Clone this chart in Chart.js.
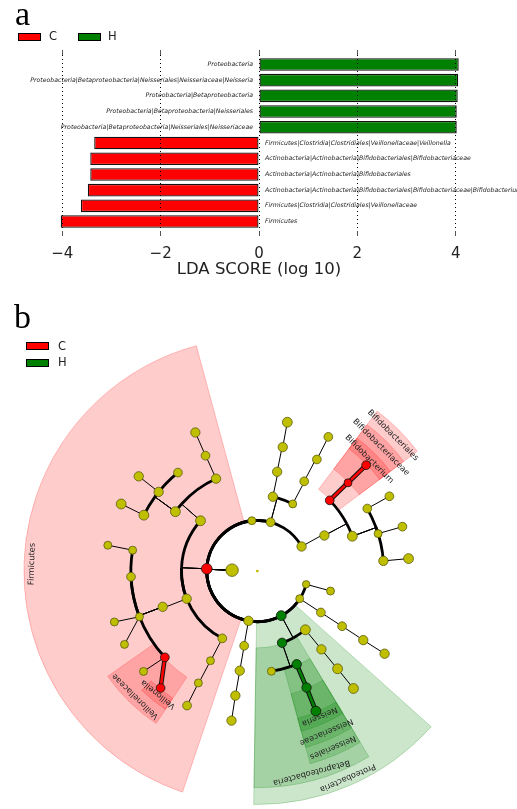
<!DOCTYPE html>
<html>
<head>
<meta charset="utf-8">
<script src="https://cdn.jsdelivr.net/npm/chart.js@4/dist/chart.umd.min.js"></script>
<style>
  html, body { margin: 0; padding: 0; background: #fff; }
  #page { position: relative; width: 517px; height: 809px; overflow: hidden; font-family: "DejaVu Sans", sans-serif; }
  canvas { position: absolute; left: 0; }
  #lda { top: 0; }
  #clado { top: 285px; }
  .panel { position: absolute; font-family: "Liberation Serif", serif; font-size: 34px; line-height: 34px; color: #000; }
  .key { position: absolute; height: 8px; width: 23px; border: 1px solid #000; box-sizing: border-box; }
  .keytxt { position: absolute; font-size: 11.5px; line-height: 11.5px; color: #222; }
</style>
</head>
<body>
<div id="page">
  <canvas id="lda" width="517" height="290"></canvas>
  <canvas id="clado" width="517" height="524"></canvas>

  <div class="panel" style="left:15px; top:-3px;">a</div>
  <div class="key" style="left:18px; top:32.5px; background:#ff0000;"></div>
  <div class="keytxt" style="left:49px; top:31px;">C</div>
  <div class="key" style="left:77.5px; top:32.5px; background:#008000;"></div>
  <div class="keytxt" style="left:108px; top:31px;">H</div>

  <div class="panel" style="left:14px; top:299.5px;">b</div>
  <div class="key" style="left:26px; top:342px; background:#ff0000;"></div>
  <div class="keytxt" style="left:58px; top:340.5px;">C</div>
  <div class="key" style="left:26px; top:358.5px; background:#008000;"></div>
  <div class="keytxt" style="left:58px; top:357px;">H</div>
</div>

<script>
Chart.defaults.font.family = '"DejaVu Sans", sans-serif';

/* ---------- LDA effect sizes (panel a) ---------- */
const ldaTaxa = [
  'Proteobacteria',
  'Proteobacteria|Betaproteobacteria|Neisseriales|Neisseriaceae|Neisseria',
  'Proteobacteria|Betaproteobacteria',
  'Proteobacteria|Betaproteobacteria|Neisseriales',
  'Proteobacteria|Betaproteobacteria|Neisseriales|Neisseriaceae',
  'Firmicutes|Clostridia|Clostridiales|Veillonellaceae|Veillonella',
  'Actinobacteria|Actinobacteria|Bifidobacteriales|Bifidobacteriaceae',
  'Actinobacteria|Actinobacteria|Bifidobacteriales',
  'Actinobacteria|Actinobacteria|Bifidobacteriales|Bifidobacteriaceae|Bifidobacterium',
  'Firmicutes|Clostridia|Clostridiales|Veillonellaceae',
  'Firmicutes'
];
const ldaScores = [4.06, 4.05, 4.04, 4.02, 4.02, -3.35, -3.43, -3.43, -3.48, -3.62, -4.03];
const ldaClass  = ['H', 'H', 'H', 'H', 'H', 'C', 'C', 'C', 'C', 'C', 'C'];
const ldaTicks  = [-4, -2, 0, 2, 4];

const classFill   = { C: '#ff0000', H: '#008000' };
const classShade  = { C: 'rgba(255,0,0,0.2)', H: 'rgba(0,128,0,0.2)' };
const classEdge   = { C: 'rgba(255,0,0,0.22)', H: 'rgba(0,128,0,0.22)' };

/* ---------- cladogram (panel b) ---------- */
// key prefix gives the rank; angle in degrees (counter-clockwise from east)
const cladeKeys = [
  'root', 'k__Bacteria',
  'p__1', 'p__2', 'p__Actinobacteria', 'p__Firmicutes', 'p__5', 'p__Proteobacteria', 'p__7', 'p__8',
  'c__2a', 'c__2b', 'c__Actinobacteria', 'c__F1', 'c__Clostridia', 'c__F3', 'c__5',
  'c__Betaproteobacteria', 'c__6b', 'c__7', 'c__8',
  'o__2a', 'o__2b', 'o__Bifidobacteriales', 'o__3b', 'o__F1a', 'o__F1b', 'o__Clostridiales',
  'o__F3', 'o__5', 'o__6a', 'o__Neisseriales', 'o__6b', 'o__7',
  'f__2a', 'f__2b', 'f__Bifidobacteriaceae', 'f__3b1', 'f__3b2', 'f__3b3', 'f__F1a',
  'f__F1b1', 'f__F1b2', 'f__F1b3', 'f__Cl1', 'f__Cl2', 'f__Cl3', 'f__Veillonellaceae',
  'f__F3', 'f__5', 'f__Neisseriaceae', 'f__6b', 'f__7',
  'g__2a', 'g__2b', 'g__Bifidobacterium', 'g__3b1', 'g__3b2', 'g__3b3', 'g__F1a',
  'g__F1b2', 'g__F1b3', 'g__Cl1', 'g__Cl3a', 'g__Cl3b', 'g__V2', 'g__Veillonella',
  'g__F3', 'g__5', 'g__Neisseria', 'g__6b', 'g__7'
];
const cladeParents = [
  null, 'root',
  'k__Bacteria', 'k__Bacteria', 'k__Bacteria', 'k__Bacteria', 'k__Bacteria', 'k__Bacteria', 'k__Bacteria', 'k__Bacteria',
  'p__2', 'p__2', 'p__Actinobacteria', 'p__Firmicutes', 'p__Firmicutes', 'p__Firmicutes', 'p__5',
  'p__Proteobacteria', 'p__Proteobacteria', 'p__7', 'p__8',
  'c__2a', 'c__2b', 'c__Actinobacteria', 'c__Actinobacteria', 'c__F1', 'c__F1', 'c__Clostridia',
  'c__F3', 'c__5', 'c__Betaproteobacteria', 'c__Betaproteobacteria', 'c__6b', 'c__7',
  'o__2a', 'o__2b', 'o__Bifidobacteriales', 'o__3b', 'o__3b', 'o__3b', 'o__F1a',
  'o__F1b', 'o__F1b', 'o__F1b', 'o__Clostridiales', 'o__Clostridiales', 'o__Clostridiales', 'o__Clostridiales',
  'o__F3', 'o__5', 'o__Neisseriales', 'o__6b', 'o__7',
  'f__2a', 'f__2b', 'f__Bifidobacteriaceae', 'f__3b1', 'f__3b2', 'f__3b3', 'f__F1a',
  'f__F1b2', 'f__F1b3', 'f__Cl1', 'f__Cl3', 'f__Cl3', 'f__Veillonellaceae', 'f__Veillonellaceae',
  'f__F3', 'f__5', 'f__Neisseriaceae', 'f__6b', 'f__7'
];
const cladeAngles = [
  0, 178,
  96.2, 74.8, 29.0, 177.5, 259.9, 298.2, 326.9, 344.8,
  78.2, 62.2, 27.9, 138.5, 201.4, 242.5, 260.0,
  289.0, 309.3, 326.9, 344.7,
  78.7, 62.4, 44.3, 20.1, 114.1, 144.1, 200.7,
  242.4, 260.0, 278.0, 292.9, 309.3, 326.95,
  78.4, 61.9, 44.2, 29.6, 17.2, 4.6, 114.2,
  128.9, 141.3, 153.8, 170.5, 182.6, 201.2, 223.0,
  242.2, 260.0, 292.9, 309.4, 326.9,
  78.6, 62.1, 44.2, 29.5, 17.0, 4.7, 114.1,
  141.4, 153.8, 170.2, 199.6, 208.9, 221.4, 230.4,
  242.4, 260.2, 292.7, 309.3, 327.0
];
const cladeLogAbundance = [
  0, 11.3,
  6.0, 6.9, 7.6, 9.1, 7.6, 8.2, 6.0, 5.3,
  7.6, 6.0, 7.6, 8.2, 7.6, 6.9, 6.9,
  7.6, 8.2, 6.9, 6.0,
  7.6, 6.9, 6.9, 8.2, 7.6, 8.2, 7.6,
  6.0, 7.6, 6.0, 7.6, 7.6, 6.9,
  7.6, 6.9, 6.0, 6.9, 6.0, 7.6, 6.9,
  6.9, 7.6, 8.2, 6.0, 6.9, 6.0, 6.9,
  6.0, 7.6, 7.6, 8.2, 7.6,
  8.2, 6.9, 6.9, 6.9, 6.9, 8.2, 7.6,
  7.6, 8.2, 6.0, 6.0, 6.0, 6.0, 6.9,
  6.9, 7.6, 8.2, 8.2, 7.6
];
const cladeClass = [
  '', '',
  '', '', '', 'C', '', 'H', '', '',
  '', '', '', '', '', '', '',
  'H', '', '', '',
  '', '', 'C', '', '', '', '',
  '', '', '', 'H', '', '',
  '', '', 'C', '', '', '', '',
  '', '', '', '', '', '', 'C',
  '', '', 'H', '', '',
  '', '', 'C', '', '', '', '',
  '', '', '', '', '', '', 'C',
  '', '', 'H', '', ''
];

const RANK_DEPTH = { k: 1, p: 2, c: 3, o: 4, f: 5, g: 6 };
const RING = 26;          // radial step between ranks (axis units)
const SHADE_OUTER = 240;  // outer radius of a phylum highlight
const SHADE_STEP = 17.3;  // each deeper rank's highlight ends one band further in
const DEG = Math.PI / 180;

const clades = cladeKeys.map((key, i) => ({
  key,
  parent: cladeParents[i],
  angle: cladeAngles[i],
  depth: key === 'root' ? 0 : RANK_DEPTH[key.split('__')[0]],
  cls: cladeClass[i],
  ab: cladeLogAbundance[i],
  name: key.includes('__') ? key.split('__')[1] : key
}));
const byKey = Object.fromEntries(clades.map(c => [c.key, c]));
clades.forEach(c => { c.children = clades.filter(d => d.parent === c.key); });
const radiusOf = c => c.depth * RING;

const leafAnglesOf = c => c.children.length ? c.children.flatMap(leafAnglesOf) : [c.angle];
const allLeaves = clades.filter(c => c.depth >= 2 && !c.children.length)
                        .map(c => c.angle).sort((a, b) => a - b);
function shadeSpan(c) {
  const la = leafAnglesOf(c);
  const lo = Math.min(...la), hi = Math.max(...la);
  const i0 = allLeaves.indexOf(lo), i1 = allLeaves.indexOf(hi);
  const prev = i0 > 0 ? allLeaves[i0 - 1] : allLeaves[allLeaves.length - 1] - 360;
  const next = i1 < allLeaves.length - 1 ? allLeaves[i1 + 1] : allLeaves[0] + 360;
  return [(lo + prev) / 2, (hi + next) / 2];
}
const biomarkers = clades.filter(c => c.cls).sort((a, b) => a.depth - b.depth);

/* ---------- panel a chart ---------- */
const barLabels = {
  id: 'barLabels',
  afterDatasetsDraw(chart) {
    const { ctx, scales: { x, y } } = chart;
    const zero = x.getPixelForValue(0);
    ctx.save();
    ctx.font = 'italic 6.2px "DejaVu Sans"';
    ctx.fillStyle = '#222';
    ctx.textBaseline = 'middle';
    ldaTaxa.forEach((t, i) => {
      const py = y.getPixelForValue(i);
      if (ldaScores[i] > 0) { ctx.textAlign = 'right'; ctx.fillText(t, zero - 6, py); }
      else { ctx.textAlign = 'left'; ctx.fillText(t, zero + 6, py); }
    });
    ctx.restore();
  }
};

const tickList = s => { s.ticks = ldaTicks.map(v => ({ value: v })); };

new Chart(document.getElementById('lda'), {
  type: 'bar',
  data: {
    datasets: [{
      data: ldaScores.map((v, i) => ({ x: v, y: i })),
      backgroundColor: ldaClass.map(c => classFill[c]),
      borderColor: '#111',
      borderWidth: 1.3,
      borderSkipped: false,
      barPercentage: 0.8,
      categoryPercentage: 1.0
    }]
  },
  options: {
    indexAxis: 'y',
    responsive: false,
    animation: false,
    events: [],
    layout: { padding: { left: 52.4, right: 51.4, top: 50, bottom: 10.1 } },
    plugins: { legend: { display: false }, tooltip: { enabled: false } },
    scales: {
      y: { type: 'linear', offset: false, min: -0.6, max: ldaTaxa.length - 0.4, reverse: true, display: false },
      x: {
        type: 'linear', position: 'bottom', min: -4.2, max: 4.2,
        afterBuildTicks: tickList,
        afterFit: s => { s.height = 48.9; },
        grid: { z: 1, color: '#000', lineWidth: 1, tickLength: 5, tickColor: '#555', tickWidth: 1 },
        border: { display: false, dash: [1, 3] },
        ticks: {
          color: '#222', padding: 9, font: { size: 15 },
          callback: v => String(v).replace('-', '\u2212')
        },
        title: {
          display: true, text: 'LDA SCORE (log 10)', color: '#222',
          font: { size: 16.5 }, padding: { top: 0, bottom: 0 }
        }
      },
      x2: {
        type: 'linear', position: 'top', min: -4.2, max: 4.2,
        afterBuildTicks: tickList,
        afterFit: s => { s.height = 5; },
        grid: { drawOnChartArea: false, tickLength: 5, tickColor: '#555' },
        border: { display: false },
        ticks: { display: false }
      }
    }
  },
  plugins: [barLabels]
});

/* ---------- panel b chart ---------- */
const cladogram = {
  id: 'cladogram',
  beforeDatasetsDraw(chart) {
    const { ctx, scales: { x, y } } = chart;
    const cx = x.getPixelForValue(0), cy = y.getPixelForValue(0);
    const rpx = r => x.getPixelForValue(r) - cx;
    const pt = (r, a) => [x.getPixelForValue(r * Math.cos(a * DEG)), y.getPixelForValue(r * Math.sin(a * DEG))];
    ctx.save();

    // highlighted clades
    biomarkers.forEach(c => {
      const [a0, a1] = shadeSpan(c);
      const rin = rpx(radiusOf(c) + 1);
      const rout = rpx(SHADE_OUTER - (c.depth - 2) * SHADE_STEP);
      ctx.beginPath();
      ctx.arc(cx, cy, rout, -a1 * DEG, -a0 * DEG, false);
      ctx.arc(cx, cy, rin, -a0 * DEG, -a1 * DEG, true);
      ctx.closePath();
      ctx.fillStyle = classShade[c.cls];
      ctx.fill();
      ctx.strokeStyle = classEdge[c.cls];
      ctx.lineWidth = 1;
      ctx.stroke();
    });

    // branches
    const thin = [], arcs = [], marked = [];
    clades.forEach(c => {
      const p = byKey[c.parent];
      if (!p || p.depth === 0) return;
      const rp = radiusOf(p), rc = radiusOf(c);
      const hl = c.cls && c.cls === p.cls && (c.depth === 6 || Math.abs(c.angle - p.angle) < 1);
      if (c.depth === 6 || hl) {
        const seg = { from: pt(rp, p.angle), to: pt(rc, c.depth === 6 ? c.angle : p.angle), cls: c.cls };
        (hl ? marked : thin).push(seg);
        if (hl && c.depth !== 6) arcs.push({ r: rc, a: p.angle, b: c.angle });
      } else {
        thin.push({ from: pt(rp, p.angle), to: pt(rc, p.angle) });
        arcs.push({ r: rc, a: p.angle, b: c.angle });
      }
    });
    ctx.strokeStyle = '#000';
    ctx.lineWidth = 1;
    thin.forEach(s => {
      ctx.beginPath(); ctx.moveTo(...s.from); ctx.lineTo(...s.to); ctx.stroke();
    });
    ctx.lineWidth = 2.8;
    arcs.forEach(s => {
      if (Math.abs(s.a - s.b) < 0.01) return;
      const lo = Math.min(s.a, s.b), hi = Math.max(s.a, s.b);
      ctx.beginPath(); ctx.arc(cx, cy, rpx(s.r), -hi * DEG, -lo * DEG, false); ctx.stroke();
    });
    marked.forEach(s => {
      ctx.lineCap = 'round';
      ctx.strokeStyle = '#111'; ctx.lineWidth = 4.6;
      ctx.beginPath(); ctx.moveTo(...s.from); ctx.lineTo(...s.to); ctx.stroke();
      ctx.strokeStyle = classFill[s.cls]; ctx.lineWidth = 2.6;
      ctx.beginPath(); ctx.moveTo(...s.from); ctx.lineTo(...s.to); ctx.stroke();
    });
    ctx.restore();
  },
  afterDatasetsDraw(chart) {
    const { ctx, scales: { x, y } } = chart;
    ctx.save();
    ctx.font = '8.2px "DejaVu Sans"';
    ctx.fillStyle = '#222';
    ctx.textAlign = 'center';
    ctx.textBaseline = 'middle';
    biomarkers.forEach(c => {
      const [a0, a1] = shadeSpan(c);
      const mid = (a0 + a1) / 2;
      const r = SHADE_OUTER - (c.depth - 2) * SHADE_STEP - 8.2;
      ctx.save();
      ctx.translate(x.getPixelForValue(r * Math.cos(mid * DEG)), y.getPixelForValue(r * Math.sin(mid * DEG)));
      ctx.rotate((90 - mid) * DEG);
      ctx.fillText(c.name, 0, 0);
      ctx.restore();
    });
    ctx.restore();
  }
};

const nodeColor = c => c.cls ? classFill[c.cls] : '#bfbf00';

new Chart(document.getElementById('clado'), {
  type: 'scatter',
  data: {
    datasets: [{
      data: clades.map(c => ({
        x: radiusOf(c) * Math.cos(c.angle * DEG),
        y: radiusOf(c) * Math.sin(c.angle * DEG)
      })),
      pointRadius: clades.map(c => 1.4 + 0.43 * c.ab),
      pointBackgroundColor: clades.map(nodeColor),
      pointBorderColor: clades.map(c => c.cls ? '#111' : '#5a5a10'),
      pointBorderWidth: clades.map(c => c.depth === 0 ? 0 : 0.8),
      clip: false
    }]
  },
  options: {
    responsive: false,
    animation: false,
    events: [],
    layout: { padding: 0 },
    plugins: { legend: { display: false }, tooltip: { enabled: false } },
    scales: {
      x: { type: 'linear', min: -257.3, max: 259.7, display: false },
      y: { type: 'linear', min: -237.3, max: 286.7, display: false }
    }
  },
  plugins: [cladogram]
});
</script>
</body>
</html>
